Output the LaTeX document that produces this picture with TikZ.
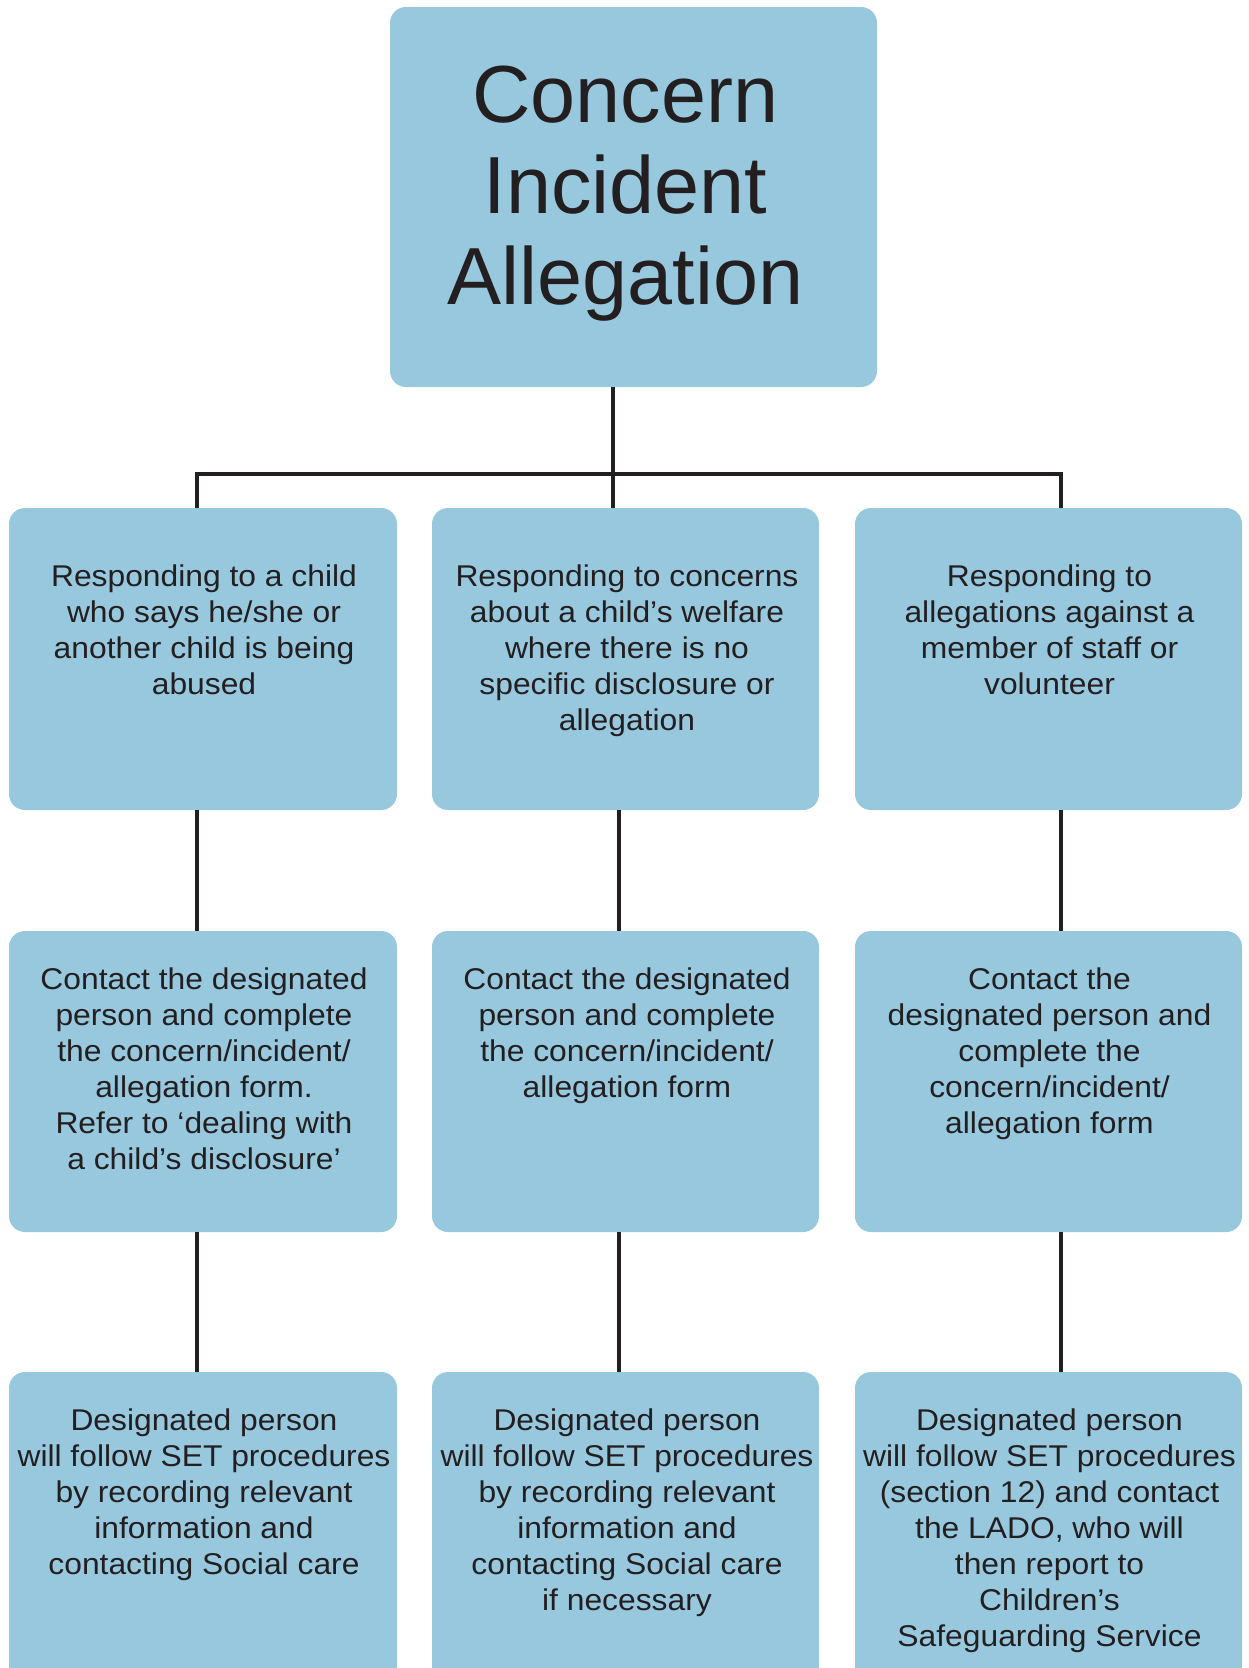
\documentclass[tikz,border=0pt]{standalone}
\usepackage{fontspec}
\setmainfont{Liberation Sans}
\newfontfamily\bodyfont{Liberation Sans}[FakeStretch=1.06]
\definecolor{boxblue}{HTML}{97C8DE}
\definecolor{inkdark}{HTML}{231F20}
\begin{document}
\begin{tikzpicture}[x=1pt,y=-1pt,
  box/.style={fill=boxblue, draw=none, rounded corners=16pt, inner sep=0pt},
  body/.style={font=\bodyfont\fontsize{30}{36}\selectfont, align=center, anchor=north, inner sep=0pt, text=inkdark},
  titletext/.style={font=\fontsize{81}{91}\selectfont, align=center, anchor=north, inner sep=0pt, text=inkdark},
  conn/.style={draw=inkdark, line width=4pt}]
\useasboundingbox[fill=white] (0,0) rectangle (1248,1668);
\clip (0,0) rectangle (1248,1668);
% boxes
\node[box, minimum width=487pt, minimum height=380pt] (top) at (633.5,197) {};
\node[box, minimum width=388pt, minimum height=302pt] (a1) at (203,659) {};
\node[box, minimum width=387pt, minimum height=302pt] (a2) at (625.5,659) {};
\node[box, minimum width=387pt, minimum height=302pt] (a3) at (1048.5,659) {};
\node[box, minimum width=388pt, minimum height=301pt] (b1) at (203,1081.5) {};
\node[box, minimum width=387pt, minimum height=301pt] (b2) at (625.5,1081.5) {};
\node[box, minimum width=387pt, minimum height=301pt] (b3) at (1048.5,1081.5) {};
\node[box, minimum width=388pt, minimum height=328pt] (c1) at (203,1536) {};
\node[box, minimum width=387pt, minimum height=328pt] (c2) at (625.5,1536) {};
\node[box, minimum width=387pt, minimum height=328pt] (c3) at (1048.5,1536) {};
% texts
\node[titletext] (ttl) at (625.5,66) {Concern\\Incident\\Allegation};
\node[body] (ta1) at (204,565) {Responding to a child\\who says he/she or\\another child is being\\abused};
\node[body] (ta2) at (627,565) {Responding to concerns\\about a child’s welfare\\where there is no\\specific disclosure or\\allegation};
\node[body] (ta3) at (1049.5,565) {Responding to\\allegations against a\\member of staff or\\volunteer};
\node[body] (tb1) at (204,968) {Contact the designated\\person and complete\\the concern/incident/\\allegation form.\\Refer to ‘dealing with\\a child’s disclosure’};
\node[body] (tb2) at (627,968) {Contact the designated\\person and complete\\the concern/incident/\\allegation form};
\node[body] (tb3) at (1049.5,968) {Contact the\\designated person and\\complete the\\concern/incident/\\allegation form};
\node[body] (tc1) at (204,1409) {Designated person\\will follow SET procedures\\by recording relevant\\information and\\contacting Social care};
\node[body] (tc2) at (627,1409) {Designated person\\will follow SET procedures\\by recording relevant\\information and\\contacting Social care\\if necessary};
\node[body] (tc3) at (1049.5,1409) {Designated person\\will follow SET procedures\\(section 12) and contact\\the LADO, who will\\then report to\\Children’s\\Safeguarding Service};
% connectors
\coordinate (jn) at (613,474);
\coordinate (xl) at (197,0);
\coordinate (xm) at (619,0);
\coordinate (xr) at (1061,0);
\draw[conn] (a1.north -| xl) -- (jn -| xl) -- (jn -| xr) -- (a3.north -| xr);
\draw[conn] (top.south -| jn) -- (a2.north -| jn);
\draw[conn] (a1.south -| xl) -- (b1.north -| xl);
\draw[conn] (a2.south -| xm) -- (b2.north -| xm);
\draw[conn] (a3.south -| xr) -- (b3.north -| xr);
\draw[conn] (b1.south -| xl) -- (c1.north -| xl);
\draw[conn] (b2.south -| xm) -- (c2.north -| xm);
\draw[conn] (b3.south -| xr) -- (c3.north -| xr);
\end{tikzpicture}
\end{document}
